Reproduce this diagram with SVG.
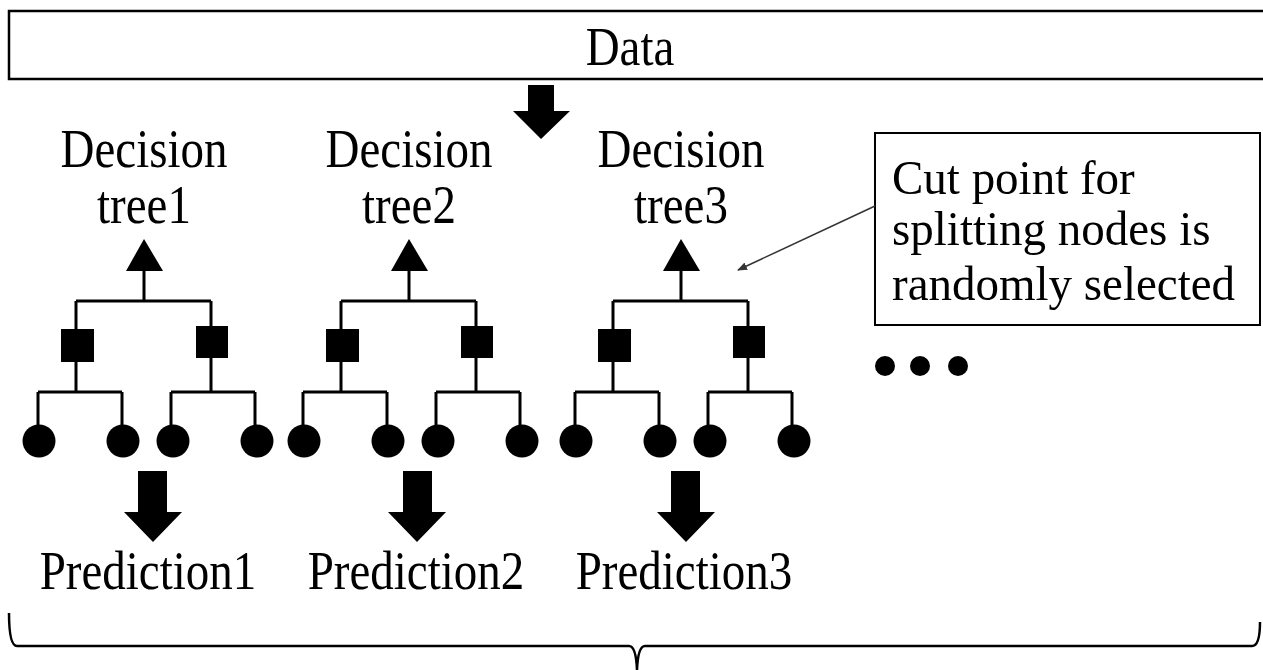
<svg xmlns="http://www.w3.org/2000/svg" width="1263" height="670" viewBox="0 0 1263 670">
<defs>
<style>
text{font-family:"Liberation Serif","Times New Roman",serif;font-size:47px;fill:#000}
.c{text-anchor:middle}
.ln{stroke:#000;stroke-width:3;fill:none}
.f{fill:#000}
</style>
<marker id="ah" markerWidth="10" markerHeight="8" refX="9" refY="4" orient="auto" markerUnits="userSpaceOnUse" viewBox="0 0 10 8"><path d="M0,0 L10,4 L0,8 Z" fill="#333"/></marker>
<g id="treeShape">
<polygon class="f" points="144,239 126,271 163,271"/>
<path class="ln" d="M144,271 V301 M76,301 H211 M76,301 V329 M211,301 V327 M76,362 V392 M211,358 V392 M38,392 H122 M171,392 H255 M38,392 V425 M122,392 V425 M171,392 V425 M255,392 V425"/>
<rect class="f" x="61" y="329" width="33" height="33"/>
<rect class="f" x="196" y="326" width="32" height="32"/>
<circle class="f" cx="39" cy="441" r="16.5"/>
<circle class="f" cx="123" cy="441" r="16.5"/>
<circle class="f" cx="173" cy="441" r="16.5"/>
<circle class="f" cx="257" cy="441" r="16.5"/>
</g>
</defs>
<rect width="1263" height="670" fill="#fff"/>
<g id="data">
<rect x="9" y="11" width="1270" height="68" fill="#fff" stroke="#000" stroke-width="2.5"/>
<text class="c" transform="translate(630,65) scale(1,1.18)">Data</text>
</g>
<g id="tree1">
<text class="c" transform="translate(144,167) scale(1,1.18)">Decision</text>
<text class="c" transform="translate(144,223) scale(1,1.18)">tree1</text>
<use href="#treeShape"/>
</g>
<g id="tree2">
<text class="c" transform="translate(409,167) scale(1,1.18)">Decision</text>
<text class="c" transform="translate(409,223) scale(1,1.18)">tree2</text>
<use href="#treeShape" transform="translate(265,0)"/>
</g>
<g id="tree3">
<text class="c" transform="translate(681,167) scale(1,1.18)">Decision</text>
<text class="c" transform="translate(681,223) scale(1,1.18)">tree3</text>
<use href="#treeShape" transform="translate(537,0)"/>
</g>
<g id="callout">
<rect x="875" y="133" width="385" height="192" fill="#fff" stroke="#000" stroke-width="2"/>
<text transform="translate(892,194) scale(1,1.05)">Cut point for</text>
<text transform="translate(892,245) scale(1,1.05)">splitting nodes is</text>
<text transform="translate(892,300) scale(1,1.05)">randomly selected</text>
</g>
<g id="more">
<circle class="f" cx="885" cy="366" r="10"/>
<circle class="f" cx="920" cy="366" r="10"/>
<circle class="f" cx="958" cy="366" r="10"/>
</g>
<g id="pred1"><text class="c" transform="translate(148,589) scale(1,1.18)">Prediction1</text></g>
<g id="pred2"><text class="c" transform="translate(416,589) scale(1,1.18)">Prediction2</text></g>
<g id="pred3"><text class="c" transform="translate(684,589) scale(1,1.18)">Prediction3</text></g>
<g id="connectors">
<polygon class="f" points="528,85 554,85 554,111 570,111 541,139 513,111 528,111"/>
<polygon class="f" points="138,471 167,471 167,512 182,512 153,542 124,512 138,512"/>
<polygon class="f" points="403,471 432,471 432,512 446,512 417,542 388,512 403,512"/>
<polygon class="f" points="671,471 700,471 700,512 715,512 686,542 657,512 671,512"/>
<line x1="875" y1="206" x2="738" y2="270" stroke="#333" stroke-width="1.5" marker-end="url(#ah)"/>
<path d="M9,613 Q9,646 17,646 L629,646 Q636,646 637,670 Q638,646 645,646 L1252,646 Q1260,646 1260,622" fill="none" stroke="#000" stroke-width="2.5"/>
</g>
</svg>
